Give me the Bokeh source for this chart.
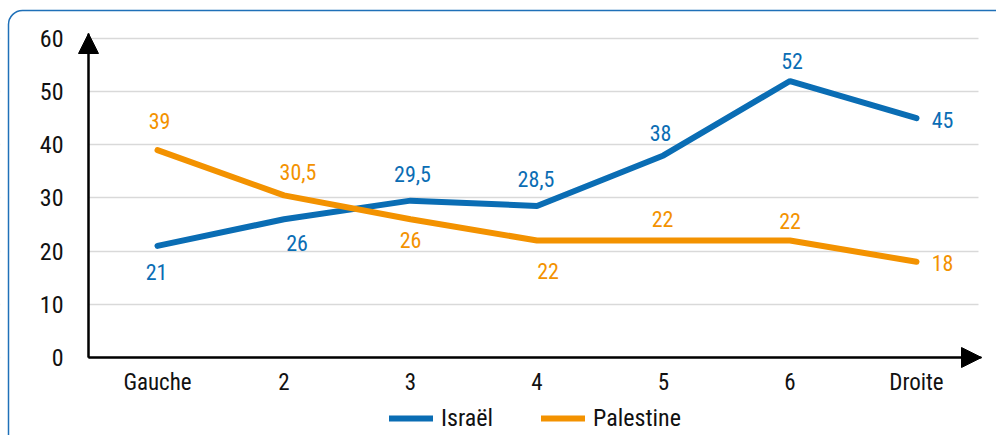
from bokeh.plotting import figure
from bokeh.models import (ColumnDataSource, FixedTicker, Arrow, NormalHead, Legend,
                          LegendItem, BoxAnnotation)
from bokeh.core.properties import value
from bokeh.embed import file_html
from bokeh.resources import INLINE

# ---- data ----
categories = ["Gauche", "2", "3", "4", "5", "6", "Droite"]
israel = [21, 26, 29.5, 28.5, 38, 52, 45]
palestine = [39, 30.5, 26, 22, 22, 22, 18]
y_ticks = [0, 10, 20, 30, 40, 50, 60]

# ---- label placement styles (screen px offsets) ----
israel_dx = [-1, 13, 2, -1, -3, 2, 26]
israel_dy = [26, 24, -27, -27, -22, -20, 2]
palestine_dx = [2, 14, 0, 11, -1, 0, 26]
palestine_dy = [-29, -23, 21, 30, -22, -20, 1]

BLUE = "#0a6db4"
ORANGE = "#f39200"
FONT = '"Roboto Condensed", "DejaVu Sans Condensed", "Liberation Sans Narrow", Roboto, sans-serif'

xs = list(range(len(categories)))

def fmt(v):
    return f"{v:g}".replace(".", ",")

# ---- geometry (axis / frame extents, in data units) ----
W, H = 996, 435
x0_px, x_unit = 157.0, 126.5      # pixel of first category, px per category
y0_px, y_unit = 357.0, 5.317      # pixel of value 0, px per value unit
x_start = -x0_px / x_unit
x_end = (W - x0_px) / x_unit
y_end = y0_px / y_unit
y_start = -(H - y0_px) / y_unit
axis_x = (88 - x0_px) / x_unit      # where the y axis sits
axis_right = (981 - x0_px) / x_unit # tip of the x axis arrow
grid_right = (978 - x0_px) / x_unit
axis_top = (y0_px - 33) / y_unit    # tip of the y axis arrow

p = figure(width=W, height=H, output_backend="svg", toolbar_location=None,
           x_range=(x_start, x_end), y_range=(y_start, y_end),
           min_border_left=0, min_border_right=0,
           min_border_top=0, min_border_bottom=0)
p.background_fill_color = "white"
p.border_fill_color = "white"
p.outline_line_color = None

p.xgrid.grid_line_color = None
p.ygrid.grid_line_color = "#d9d9d9"
p.ygrid.grid_line_width = 1.5
p.ygrid.ticker = FixedTicker(ticks=y_ticks)

# hide grid stubs outside the axes
p.add_layout(BoxAnnotation(right=axis_x, fill_color="white", fill_alpha=1,
                           line_color=None, level="underlay"))
p.add_layout(BoxAnnotation(left=grid_right, fill_color="white", fill_alpha=1,
                           line_color=None, level="underlay"))

p.xaxis.ticker = FixedTicker(ticks=xs)
p.xaxis.major_label_overrides = {i: c for i, c in zip(xs, categories)}
p.yaxis.ticker = FixedTicker(ticks=y_ticks)
p.xaxis.fixed_location = 0
p.yaxis.fixed_location = axis_x
p.xaxis.bounds = (axis_x, axis_right)
p.yaxis.bounds = (0, axis_top)
for ax in (p.xaxis, p.yaxis):
    ax.axis_line_color = "black"
    ax.axis_line_width = 2
    ax.major_tick_line_color = None
    ax.minor_tick_line_color = None
    ax.major_label_text_font = FONT
    ax.major_label_text_color = "#111111"
p.yaxis.major_label_text_font_size = "24px"
p.xaxis.major_label_text_font_size = "23px"
p.yaxis.major_label_standoff = 19
p.xaxis.major_label_standoff = 5

# arrows
p.add_layout(Arrow(end=NormalHead(size=20, fill_color="black", line_color="black"),
                   x_start=axis_x, y_start=0, x_end=axis_right, y_end=0,
                   line_width=2, line_color="black"))
p.add_layout(Arrow(end=NormalHead(size=20, fill_color="black", line_color="black"),
                   x_start=axis_x, y_start=0, x_end=axis_x, y_end=axis_top,
                   line_width=2, line_color="black"))

r_isr = p.line(xs, israel, line_color=BLUE, line_width=6, line_cap="round")
r_pal = p.line(xs, palestine, line_color=ORANGE, line_width=6, line_cap="round")

src_i = ColumnDataSource(dict(x=xs, y=israel, t=[fmt(v) for v in israel],
                              dx=israel_dx, dy=israel_dy))
src_p = ColumnDataSource(dict(x=xs, y=palestine, t=[fmt(v) for v in palestine],
                              dx=palestine_dx, dy=palestine_dy))
for src, col in ((src_i, BLUE), (src_p, ORANGE)):
    p.text(x="x", y="y", text="t", source=src, x_offset="dx", y_offset="dy",
           text_align="center", text_baseline="middle", text_color=col,
           text_font=value(FONT), text_font_size="22px")

legend = Legend(items=[LegendItem(label="Israël", renderers=[r_isr]),
                       LegendItem(label="Palestine", renderers=[r_pal])],
                orientation="horizontal", location=(389, 3),
                label_text_font=FONT, label_text_font_size="24px",
                label_text_color="#111111", glyph_width=44, label_standoff=8,
                spacing=48, padding=0, margin=0, border_line_color=None,
                background_fill_color=None)
p.add_layout(legend)

# rounded blue frame (top-left corner visible)
p.add_layout(BoxAnnotation(left=(8 - x0_px) / x_unit, top=(y0_px - 10) / y_unit,
                           right=x_end + 1, bottom=y_start - 5,
                           fill_color=None, line_color="#1f70b8", line_alpha=1,
                           line_width=1.5, border_radius=14))

open("out.html", "w").write(file_html(p, INLINE))
